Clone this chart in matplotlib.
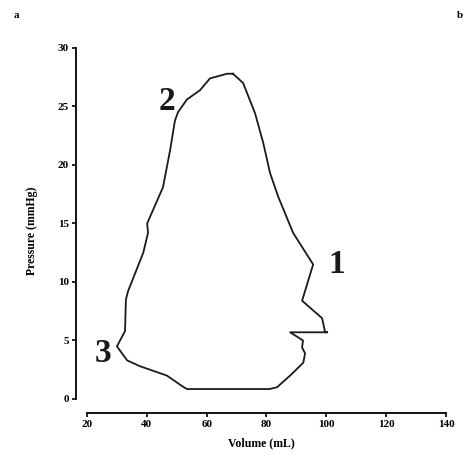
import matplotlib
matplotlib.use("Agg")
import matplotlib.pyplot as plt

# pressure-volume loop, traced clockwise from the top of the ejection phase
volume = [68.8, 72.2, 76.2, 78.9, 81.2, 83.9, 88.9, 95.6, 91.9, 98.6, 99.6,
          100.3, 87.9, 92.2, 91.9, 92.9, 92.3, 87.9, 83.5, 81.0, 53.4, 51.8,
          46.7, 37.7, 33.4, 30.0, 32.7, 33.0, 33.7, 38.8, 40.4, 40.1, 45.4,
          47.8, 49.4, 50.4, 53.4, 57.8, 61.1, 66.8, 68.8]
pressure = [27.8, 27.0, 24.4, 21.9, 19.3, 17.3, 14.2, 11.5, 8.4, 6.9, 5.7,
            5.7, 5.7, 5.0, 4.4, 3.9, 3.1, 2.0, 1.0, 0.85, 0.85, 1.1,
            2.0, 2.8, 3.3, 4.5, 5.8, 8.5, 9.2, 12.5, 14.2, 15.0, 18.1,
            21.3, 23.8, 24.5, 25.6, 26.4, 27.4, 27.8, 27.8]

point_labels = ["1", "2", "3"]
label_volume = [103.6, 46.8, 25.4]
label_pressure = [11.5, 25.4, 3.9]

x_ticks = [20, 40, 60, 80, 100, 120, 140]
y_ticks = [0, 5, 10, 15, 20, 25, 30]

plt.rcParams["font.family"] = ["Liberation Serif", "DejaVu Serif"]

fig = plt.figure(figsize=(4.66, 4.66), dpi=100)
ax = fig.add_axes([0.163, 0.1137, 0.957 - 0.163, 0.897 - 0.1137])

ax.plot(volume, pressure, color="#1a1a1a", lw=1.3)

for lab, v, p in zip(point_labels, label_volume, label_pressure):
    ax.text(v, p, lab, fontsize=24, fontweight="bold", color="#1a1a1a",
            ha="center", va="center")

ax.set_xlim(16.3, 140)
ax.set_ylim(-1.2, 30)
ax.set_xticks(x_ticks)
ax.set_yticks(y_ticks)
ax.spines["bottom"].set_bounds(20, 140)
ax.spines["left"].set_bounds(0, 30)
ax.spines["top"].set_visible(False)
ax.spines["right"].set_visible(False)
ax.tick_params(labelsize=8, length=3, width=1.2, pad=2)
for lab in ax.get_xticklabels() + ax.get_yticklabels():
    lab.set_fontweight("bold")
for sp in ("left", "bottom"):
    ax.spines[sp].set_linewidth(1.3)

ax.set_xlabel("Volume (mL)", fontsize=8.5, fontweight="bold", labelpad=6)
ax.set_ylabel("Pressure (mmHg)", fontsize=8.5, fontweight="bold", labelpad=14)

fig.text(16 / 466, 1 - 16 / 466, "a", fontsize=8, fontweight="bold",
         ha="center", va="center")
fig.text(457 / 466, 1 - 16 / 466, "b", fontsize=8, fontweight="bold",
         ha="left", va="center")

fig.savefig("out.png", dpi=100)
